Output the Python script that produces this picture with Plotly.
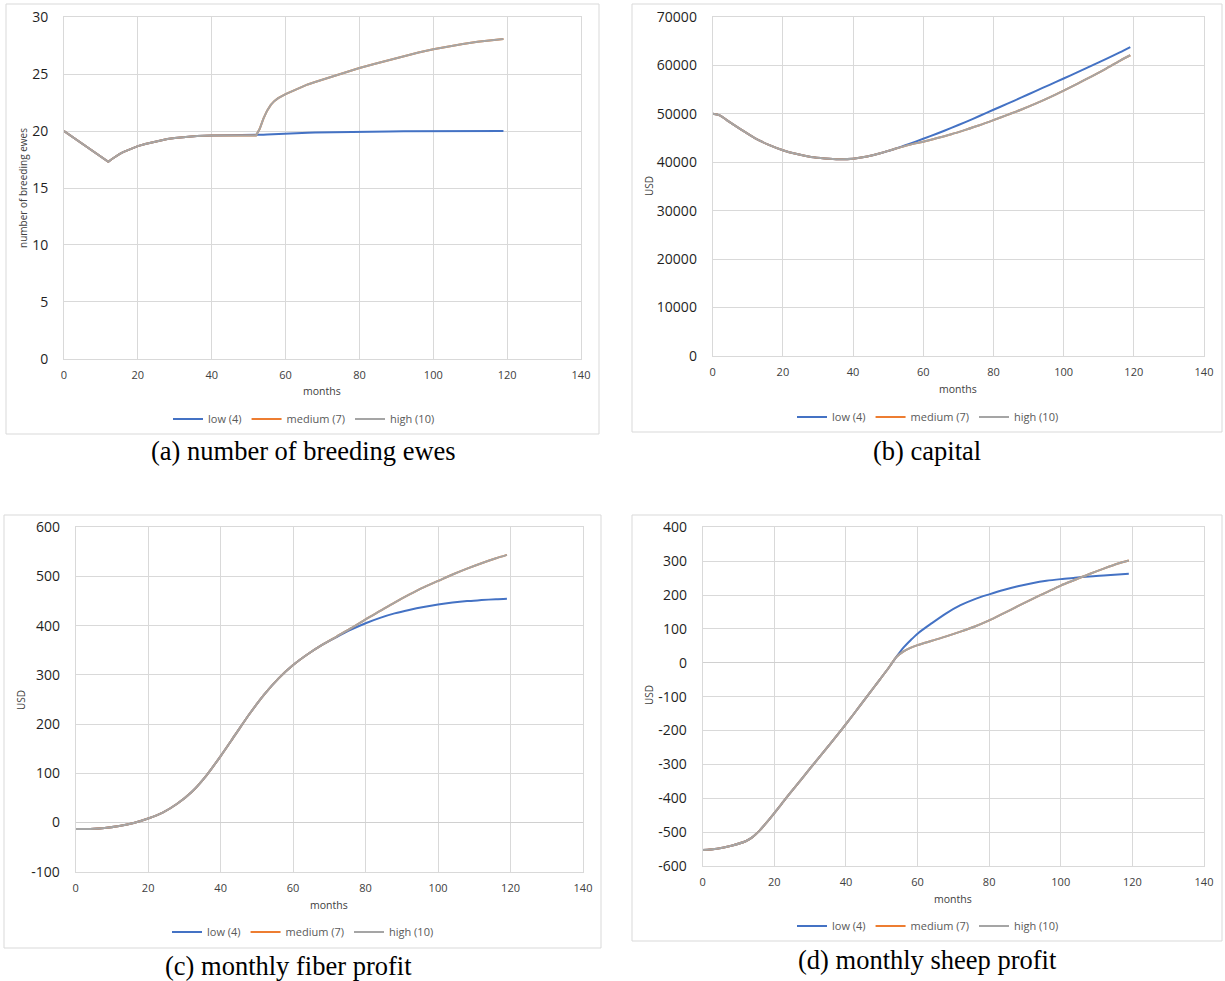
import plotly.graph_objects as go

# ---------------- data ----------------
series_names = ["low (4)", "medium (7)", "high (10)"]
series_colors = ["#4472C4", "#ED7D31", "#A5A5A5"]

x_ticks = [0, 20, 40, 60, 80, 100, 120, 140]

# (a) number of breeding ewes
months_a = [0, 4, 8, 12, 13, 14, 15, 16, 18, 20, 22, 24, 26, 28, 30, 32, 34, 36, 40, 44, 48, 52,
            53, 54, 55, 56, 57, 58, 60, 62, 64, 66, 68, 72, 76, 80, 84, 88, 92, 96, 100, 104, 108,
            112, 116, 119]
ewes_low = [20.0, 19.1, 18.2, 17.3, 17.55, 17.78, 17.98, 18.15, 18.45, 18.68, 18.87, 19.03, 19.17, 19.3,
            19.4, 19.48, 19.54, 19.58, 19.62, 19.62, 19.62, 19.62,
            19.65, 19.68, 19.7, 19.72, 19.74, 19.76, 19.79, 19.82, 19.84, 19.86, 19.88, 19.91, 19.93,
            19.95, 19.96, 19.97, 19.98, 19.98, 19.99, 19.99, 20.0, 20.0, 20.0, 20.0]
ewes_high = [20.0, 19.1, 18.2, 17.3, 17.55, 17.78, 17.98, 18.15, 18.45, 18.68, 18.87, 19.03, 19.17, 19.3,
             19.4, 19.48, 19.54, 19.58, 19.62, 19.62, 19.62, 19.62,
             20.2, 21.1, 21.8, 22.3, 22.65, 22.9, 23.25, 23.55, 23.85, 24.1, 24.32, 24.75, 25.15,
             25.55, 25.9, 26.25, 26.6, 26.9, 27.2, 27.45, 27.65, 27.85, 28.0, 28.1]
ewes_medium = list(ewes_high)
ticks_a = [0, 5, 10, 15, 20, 25, 30]

# (b) capital
months_b = [0, 2, 4, 8, 12, 16, 20, 24, 28, 32, 36, 40, 44, 48, 52, 56, 60, 64, 68, 72, 76, 80,
            84, 88, 92, 96, 100, 104, 108, 112, 116, 119]
cap_low = [50000, 49700, 48700, 46800, 45000, 43600, 42500, 41700, 41100, 40800, 40650, 40750, 41200, 41900,
           42800, 43800, 44850, 45950, 47100, 48300, 49550, 50850, 52100, 53400, 54700, 56000, 57300,
           58600, 59950, 61300, 62700, 63800]
cap_high = [50000, 49700, 48700, 46800, 45000, 43600, 42500, 41700, 41100, 40800, 40650, 40750, 41200, 41900,
            42800, 43600, 44250, 45000, 45800, 46700, 47650, 48700, 49800, 50900, 52100, 53400, 54800,
            56250, 57750, 59300, 60950, 62100]
cap_medium = list(cap_high)
ticks_b = [0, 10000, 20000, 30000, 40000, 50000, 60000, 70000]

# (c) monthly fiber profit
months_c = [0, 4, 8, 12, 16, 20, 24, 28, 32, 36, 40, 44, 48, 52, 56, 60, 64, 68, 72, 76, 80,
            84, 88, 92, 96, 100, 104, 108, 112, 116, 119]
fiber_low = [-13, -13, -11, -7, -1, 8, 20, 38, 62, 95, 135, 178, 221, 260, 293, 320, 342, 361, 377,
             392, 405, 416, 425, 432, 438, 443, 447, 450, 452, 454, 455]
fiber_high = [-13, -13, -11, -7, -1, 8, 20, 38, 62, 95, 135, 178, 221, 260, 293, 320, 342, 361, 378,
              395, 413, 430, 447, 463, 478, 491, 504, 516, 527, 537, 544]
fiber_medium = list(fiber_high)
ticks_c = [-100, 0, 100, 200, 300, 400, 500, 600]

# (d) monthly sheep profit
months_d = [0, 4, 8, 12, 14, 16, 18, 20, 22, 24, 28, 32, 36, 40, 44, 48, 52, 54, 56, 58, 60, 64,
            68, 72, 76, 80, 84, 88, 92, 96, 100, 104, 108, 112, 116, 119]
sheep_low = [-553, -549, -540, -527, -514, -494, -470, -444, -417, -390, -338, -286, -234, -181, -126,
             -70, -14, 16, 44, 66, 86, 117, 146, 170, 188, 202, 215, 226, 235, 242, 247, 251, 255,
             258, 261, 263]
sheep_high = [-553, -549, -540, -527, -514, -494, -470, -444, -417, -390, -338, -286, -234, -181, -126,
              -70, -14, 16, 33, 44, 52, 65, 78, 92, 107, 125, 146, 167, 188, 208, 228, 245, 262,
              278, 293, 302]
sheep_medium = list(sheep_high)
ticks_d = [-600, -500, -400, -300, -200, -100, 0, 100, 200, 300, 400]

y_titles = ["number of breeding ewes", "USD", "USD", "USD"]
captions = ["(a) number of breeding ewes", "(b) capital", "(c) monthly fiber profit", "(d) monthly sheep profit"]
x_title = "months"
y_ticks = [ticks_a, ticks_b, ticks_c, ticks_d]

panels = [
    (months_a, [ewes_low, ewes_medium, ewes_high]),
    (months_b, [cap_low, cap_medium, cap_high]),
    (months_c, [fiber_low, fiber_medium, fiber_high]),
    (months_d, [sheep_low, sheep_medium, sheep_high]),
]
line_shapes = ["linear", "spline", "spline", "spline"]

# ---------------- layout geometry (pixels) ----------------
W, H = 1225, 981
plot_px = [  # x0, x1, ytop, ybottom
    (64, 581, 17.3, 358.7),
    (712.7, 1204, 17, 356),
    (75.7, 583, 527.3, 871.7),
    (702.7, 1204, 527.3, 866),
]
box_px = [(6, 599, 4, 434), (632, 1222, 4, 432), (4, 601, 515, 948), (632, 1222, 515, 941)]
xtitle_px = [(322, 391), (958, 389), (329, 905), (953, 899)]
ytitle_px = [(23, 188), (649, 186), (21, 700), (649, 695)]
legend_px = [(304, 419), (928, 417), (303, 932), (928, 926)]
caption_px = [(303, 451), (927, 451), (288, 966), (927, 960)]


def px(x):
    return x / W


def py(y):
    return 1 - y / H


def label(v):
    return str(int(v))


fig = go.Figure()
grid = "#D9D9D9"
tickfont = "Open Sans"

for i, (xs, ys_list) in enumerate(panels):
    n = i + 1
    sfx = "" if n == 1 else str(n)
    leg = "legend" if n == 1 else f"legend{n}"
    for name, color, ys in zip(series_names, series_colors, ys_list):
        fig.add_trace(go.Scatter(
            x=xs, y=ys, mode="lines", name=name,
            line=dict(color=color, width=2, shape=line_shapes[i], smoothing=0.8),
            xaxis="x" + sfx, yaxis="y" + sfx, legend=leg, showlegend=True,
        ))
    x0, x1, yt, yb = plot_px[i]
    yt_vals = y_ticks[i]
    fig.layout["xaxis" + sfx] = dict(
        domain=[px(x0), px(x1)], anchor="y" + sfx, range=[0, 140],
        tickmode="array", tickvals=x_ticks, ticktext=[label(v) for v in x_ticks],
        showgrid=True, gridcolor=grid, gridwidth=1, zeroline=False,
        showline=True, linecolor=grid, mirror=True, automargin=False,
        tickfont=dict(family=tickfont, size=11, color="#404040"), ticks="", ticklabelstandoff=6,
    )
    fig.layout["yaxis" + sfx] = dict(
        domain=[py(yb), py(yt)], anchor="x" + sfx, range=[yt_vals[0], yt_vals[-1]],
        tickmode="array", tickvals=yt_vals, ticktext=[label(v) for v in yt_vals],
        showgrid=True, gridcolor=grid, gridwidth=1, zeroline=True, zerolinecolor="#D0D0D0", zerolinewidth=1,
        showline=True, linecolor=grid, mirror=True, automargin=False,
        tickfont=dict(family=tickfont, size=14, color="#1F1F1F"), ticks="", ticklabelstandoff=12,
    )
    lx, ly = legend_px[i]
    fig.layout[leg] = dict(
        orientation="h", x=px(lx), y=py(ly), xanchor="center", yanchor="middle",
        font=dict(family=tickfont, size=11, color="#595959"), bgcolor="rgba(0,0,0,0)",
        itemwidth=30, tracegroupgap=0,
    )
    bx0, bx1, by0, by1 = box_px[i]
    fig.add_shape(type="rect", xref="paper", yref="paper", x0=px(bx0), x1=px(bx1), y0=py(by1), y1=py(by0),
                  line=dict(color="#D9D9D9", width=1), layer="below")
    tx, ty = xtitle_px[i]
    fig.add_annotation(text=x_title, x=px(tx), y=py(ty), xref="paper", yref="paper", showarrow=False,
                       xanchor="center", yanchor="middle",
                       font=dict(family=tickfont, size=10.5, color="#404040"))
    tx, ty = ytitle_px[i]
    fig.add_annotation(text=y_titles[i], x=px(tx), y=py(ty), xref="paper", yref="paper", showarrow=False,
                       xanchor="center", yanchor="middle", textangle=-90,
                       font=dict(family=tickfont, size=10, color="#404040"))
    tx, ty = caption_px[i]
    fig.add_annotation(text=captions[i], x=px(tx), y=py(ty), xref="paper", yref="paper", showarrow=False,
                       xanchor="center", yanchor="middle",
                       font=dict(family="Liberation Serif", size=26.5, color="#000000"))

fig.update_layout(
    width=W, height=H, margin=dict(l=0, r=0, t=0, b=0, autoexpand=False),
    paper_bgcolor="white", plot_bgcolor="white",
)

fig.write_html("out.html")
